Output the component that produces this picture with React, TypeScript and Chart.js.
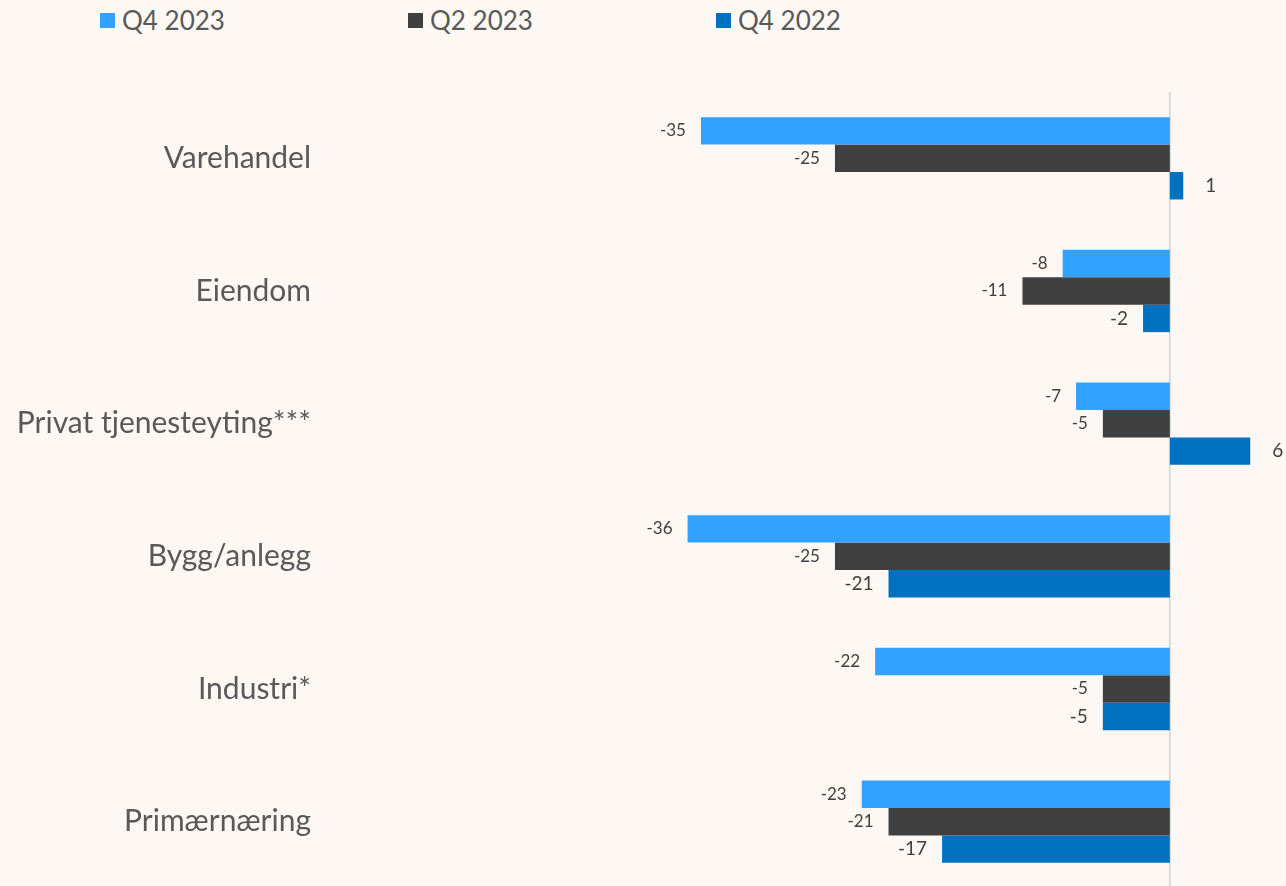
import React, { useEffect, useRef } from "react";
import { Chart, registerables } from "chart.js";

Chart.register(...registerables);

const categories = ["Varehandel", "Eiendom", "Privat tjenesteyting***", "Bygg/anlegg", "Industri*", "Primærnæring"];
const seriesNames = ["Q4 2023", "Q2 2023", "Q4 2022"];
const q4_2023 = [-35, -8, -7, -36, -22, -23];
const q2_2023 = [-25, -11, -5, -25, -5, -21];
const q4_2022 = [1, -2, 6, -21, -5, -17];
const colors = ["#31A2FF", "#404040", "#0070C0"];

const BG = "#FDF8F4";
const FONT = "Lato, 'Open Sans', sans-serif";

const decorPlugin = {
  id: "decor",
  beforeDatasetsDraw(chart: any) {
    const ctx = chart.ctx;
    const { top, bottom } = chart.chartArea;
    const x0 = chart.scales.x.getPixelForValue(0);
    ctx.save();
    ctx.strokeStyle = "#D9D9D9";
    ctx.lineWidth = 2;
    ctx.beginPath();
    ctx.moveTo(x0, top);
    ctx.lineTo(x0, bottom);
    ctx.stroke();
    // category labels
    ctx.fillStyle = "#595959";
    ctx.font = `30px ${FONT}`;
    ctx.textAlign = "right";
    ctx.textBaseline = "middle";
    categories.forEach((c, i) => {
      const y = chart.scales.y.getPixelForValue(i);
      ctx.fillText(c, 311, y);
    });
    ctx.restore();
  },
  afterDatasetsDraw(chart: any) {
    const ctx = chart.ctx;
    ctx.save();
    ctx.fillStyle = "#404040";
    ctx.textBaseline = "middle";
    chart.data.datasets.forEach((ds: any, di: number) => {
      const meta = chart.getDatasetMeta(di);
      ctx.font = `${di === 2 ? 19 : 17}px ${FONT}`;
      meta.data.forEach((bar: any, i: number) => {
        const v = ds.data[i];
        if (v < 0) {
          ctx.textAlign = "right";
          ctx.fillText(String(v), bar.x - 15, bar.y);
        } else {
          ctx.textAlign = "left";
          ctx.fillText(String(v), bar.x + 22, bar.y);
        }
      });
    });
    ctx.restore();
  },
};

export default function App() {
  const ref = useRef<HTMLCanvasElement | null>(null);
  useEffect(() => {
    if (!ref.current) return;
    const chart = new Chart(ref.current, {
      type: "bar",
      data: {
        labels: categories,
        datasets: [q4_2023, q2_2023, q4_2022].map((d, i) => ({
          label: seriesNames[i],
          data: d,
          backgroundColor: colors[i],
          borderWidth: 0,
          categoryPercentage: 0.62,
          barPercentage: 1,
        })),
      },
      options: {
        indexAxis: "y",
        animation: false,
        responsive: false,
        maintainAspectRatio: false,
        layout: { padding: { top: 92, bottom: 2, right: 9, left: 634 } },
        plugins: { legend: { display: false }, tooltip: { enabled: false } },
        scales: {
          x: { display: false, min: -40, max: 8 },
          y: { display: false },
        },
      },
      plugins: [decorPlugin],
    } as any);
    return () => chart.destroy();
  }, []);

  return (
    <div style={{ position: "fixed", left: 0, top: 0, width: 1286, height: 886, overflow: "hidden", background: BG }}>
      {seriesNames.map((n, i) => (
        <div key={n} style={{ position: "absolute", left: 100 + i * 308, top: 4, height: 32, display: "flex", alignItems: "center", fontFamily: FONT, fontSize: 26, color: "#595959" }}>
          <span style={{ display: "inline-block", width: 15, height: 15, background: colors[i], marginRight: 7 }} />
          <span>{n}</span>
        </div>
      ))}
      <canvas ref={ref} width={1286} height={890} style={{ position: "absolute", left: 0, top: 0, display: "block" }} />
    </div>
  );
}
